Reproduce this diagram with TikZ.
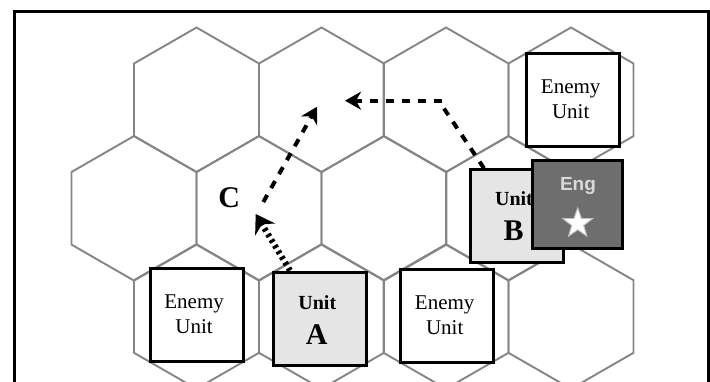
\documentclass[tikz,border=0pt]{standalone}
\usepackage{fontspec}
\setmainfont{Liberation Serif}
\newfontfamily\engfont{Liberation Sans}
\usetikzlibrary{arrows.meta,shapes.geometric,calc}
\newcommand{\enemyword}[1]{\hspace{-5pt}\raisebox{2.5pt}{#1}}
\tikzset{
  hexline/.style={draw=hexgray,line width=1.9pt,line join=miter},
  unitbox/.style={draw=black,line width=3pt,minimum width=93pt,minimum height=93pt,inner sep=0pt,outer sep=0pt},
  enemybox/.style={unitbox,fill=white,align=center,text=black,font=\fontsize{21}{25}\selectfont},
  friendbox/.style={unitbox,fill=unitgray},
  engbox/.style={unitbox,minimum width=90pt,minimum height=88pt,fill=enggray},
  bigword/.style={font=\bfseries\fontsize{20}{20}\selectfont,inner sep=0pt},
  bigletter/.style={font=\bfseries\fontsize{30}{30}\selectfont,inner sep=0pt},
  movearrow/.style={line width=4pt,dash pattern=on 8pt off 8pt},
  movehead/.style={-{Stealth[length=16pt,width=18pt,inset=5pt]}},
  denseheadarrow/.style={line width=6pt,dash pattern=on 3pt off 3.6pt,-{Stealth[length=18pt,width=23pt,inset=6pt]}}
}
\definecolor{hexgray}{HTML}{858585}
\definecolor{unitgray}{HTML}{E5E5E5}
\definecolor{enggray}{HTML}{6E6E6E}
\begin{document}
\begin{tikzpicture}[x=1pt,y=-1pt]
\useasboundingbox (0,0) rectangle (710,381);
\clip (0,0) rectangle (710,381);
% frame: open at the bottom
\coordinate (fbl) at (14.5,385);
\coordinate (ftl) at (14.5,11.5);
\coordinate (ftr) at (708,11.5);
\coordinate (fbr) at (708,385);
\draw[line width=3pt,line join=miter] (fbl) -- (ftl) -- (ftr) -- (fbr);
% hexagons
\foreach \cx/\cy in {196.5/99.8,321.5/99.8,446/99.8,571/99.8,
                     134/208.3,259/208.3,384/208.3,508.5/208.3,
                     196.5/316.5,321.5/316.5,446/316.5,571/316.5}{
  \draw[hexline] (\cx,\cy-72.3) -- (\cx+62.5,\cy-36.3) -- (\cx+62.5,\cy+36.3)
    -- (\cx,\cy+72.3) -- (\cx-62.5,\cy+36.3) -- (\cx-62.5,\cy-36.3) -- cycle;
}
% named ends of the moves
\coordinate (aStart) at (290,270.5);
\coordinate (aTip) at (255.7,214);
\coordinate (cStart) at (263.3,202);
\coordinate (cTip) at (317,106.7);
\coordinate (bStart) at (484,168.3);
\coordinate (bBend) at (444,108.5);
\coordinate (bCorner) at (441.7,100.7);
\coordinate (bTip) at (345,100.7);
\draw[movearrow,movehead] (cStart) -- (cTip);
\draw[movearrow] (bStart) -- (bBend);
\draw[movearrow,movehead] (bCorner) -- (bTip);
\draw[denseheadarrow] (aStart) -- (aTip);
% units
\node[enemybox] (enemyTop) at (573.2,100.2) {\enemyword{Enemy}\\\enemyword{Unit}};
\node[enemybox] (enemyLeft) at (196.6,315.3) {\enemyword{Enemy}\\\enemyword{Unit}};
\node[enemybox] (enemyMid) at (447.2,316.2) {\enemyword{Enemy}\\\enemyword{Unit}};
\node[friendbox] (unitA) at (319.8,318.8) {};
\node[friendbox] (unitB) at (516.8,215.5) {};
\node[bigword] (unitAword) at (317.3,303) {Unit};
\node[bigletter] (unitAletter) at (316.8,335) {A};
\node[bigword] (unitBword) at (514,199) {Unit};
\node[bigletter] (unitBletter) at (513.5,230.5) {B};
\node[engbox] (eng) at (577.7,204.2) {};
\node[inner sep=0pt,text=white!85!black,font=\engfont\bfseries\fontsize{19}{19}\selectfont] (engword) at (578,186) {Eng};
\node[star,star points=5,star point ratio=2.5,fill=white,draw=white!60!enggray,line width=1pt,minimum size=31pt,inner sep=0pt] (engstar) at (577.7,223.5) {};
\node[bigletter] (c) at (229.3,198) {C};
\end{tikzpicture}
\end{document}
